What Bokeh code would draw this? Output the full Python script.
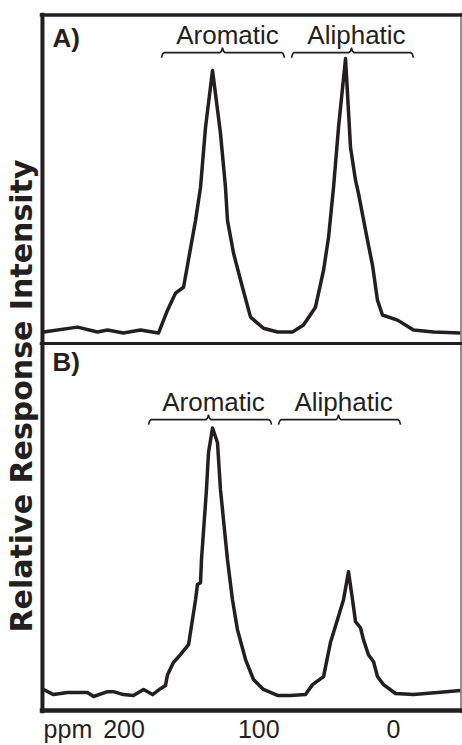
import numpy as np
from bokeh.plotting import figure
from bokeh.models import Range1d, Span, Label, FixedTicker, Title
from bokeh.embed import file_html
from bokeh.resources import INLINE
from bokeh.core.properties import value

# ---------------- data ----------------
# Panel A spectrum: chemical shift (ppm) and relative intensity
ppm_a = [259.7, 234.5, 219.7, 212.2, 200.4, 187.8, 174.4, 167.7, 161.8, 155.8,
         146.9, 143.2, 139.5, 134.3, 128.4, 124.7, 123.2, 118.7, 112.1, 106.1,
         96.5, 86.1, 75.0, 66.8, 57.9, 51.9, 48.2, 44.5, 40.8, 35.6,
         31.9, 28.2, 26.0, 19.3, 15.6, 11.9, 8.2, -3.0, -14.8, -29.7, -49.7]
int_a = [0.043, 0.061, 0.043, 0.050, 0.039, 0.050, 0.039, 0.124, 0.187, 0.209,
         0.457, 0.580, 0.802, 1.013, 0.780, 0.580, 0.457, 0.335, 0.209, 0.098,
         0.057, 0.043, 0.043, 0.069, 0.135, 0.272, 0.394, 0.580, 0.802, 1.057,
         0.727, 0.606, 0.557, 0.383, 0.291, 0.161, 0.106, 0.087, 0.050, 0.043, 0.039]

# Panel B spectrum
ppm_b = [259.7, 252.3, 241.9, 227.1, 222.6, 212.2, 207.8, 200.4, 193.0, 185.5,
         178.8, 172.9, 169.2, 167.7, 163.3, 158.1, 152.1, 149.2, 146.9, 145.5,
         143.2, 142.5, 138.8, 137.3, 134.3, 130.6, 128.4, 123.2, 119.5, 115.8,
         109.8, 103.9, 96.5, 86.1, 76.4, 65.3, 60.1, 51.9, 46.8, 41.6,
         37.1, 33.4, 30.4, 28.2, 24.5, 22.3, 18.6, 14.8, 11.9, 7.4,
         -1.5, -14.8, -32.7, -49.7]
int_b = [0.078, 0.059, 0.067, 0.067, 0.052, 0.070, 0.070, 0.059, 0.056, 0.078,
         0.059, 0.081, 0.093, 0.133, 0.178, 0.207, 0.244, 0.337, 0.411, 0.467,
         0.474, 0.559, 0.819, 0.956, 1.048, 0.993, 0.819, 0.559, 0.411, 0.300,
         0.189, 0.115, 0.078, 0.056, 0.056, 0.059, 0.096, 0.126, 0.252, 0.337,
         0.411, 0.515, 0.411, 0.330, 0.307, 0.263, 0.207, 0.181, 0.126, 0.096,
         0.063, 0.059, 0.067, 0.074]

panel_names = ["A)", "B)"]
region_names = ["Aromatic", "Aliphatic"]
# region brackets (ppm): start, centre, end
regions_a_start = [172.2, 75.7]
regions_a_mid = [126.9, 31.2]
regions_a_end = [80.9, -14.8]
regions_b_start = [181.8, 85.3]
regions_b_mid = [137.3, 40.8]
regions_b_end = [90.5, -5.2]

tick_values = [200, 100, 0]
tick_labels = ["200", "100", "0"]
x_unit_label = "ppm"
y_title = "Relative Response Intensity"

# ---------------- layout ----------------
INK = "#231f20"
PX_PER_PPM = 1.3475
PX_PER_UNIT = 270.0
OFFSET_A = 1.361          # vertical shift of panel A (panel divider)
OFFSET_B = 0.0
TOP = 2.580
BRACE_LEVEL = 1.079
TEXT_LEVEL = 1.146
UNIT_LABEL_AT = 241.6     # where the unit word sits in the tick-label row

p = figure(width=462, height=745, output_backend="svg", toolbar_location=None,
           x_range=Range1d(262.7, -51.2), y_range=Range1d(-0.0111, 2.589),
           min_border_left=39, min_border_right=0, min_border_top=12,
           min_border_bottom=31)
p.outline_line_color = None
p.grid.visible = False
p.yaxis.visible = False
p.background_fill_color = "white"
p.border_fill_color = "white"

ax = p.xaxis[0]
ax.ticker = FixedTicker(ticks=tick_values + [UNIT_LABEL_AT])
overrides = {v: s for v, s in zip(tick_values, tick_labels)}
overrides[UNIT_LABEL_AT] = x_unit_label
ax.major_label_overrides = overrides
ax.axis_line_color = None
ax.major_tick_line_color = None
ax.minor_tick_line_color = None
ax.major_tick_out = 0
ax.major_tick_in = 0
ax.major_label_standoff = 1
ax.major_label_text_font = "Liberation Sans"
ax.major_label_text_font_size = "25px"
ax.major_label_text_color = INK

# spectra
p.line(ppm_a, np.array(int_a) + OFFSET_A, line_color=INK, line_width=3.5,
       line_join="round")
p.line(ppm_b, np.array(int_b) + OFFSET_B, line_color=INK, line_width=3.5,
       line_join="round")

# brackets
d = 5.0 / PX_PER_UNIT
e = 2.5 / PX_PER_PPM
def bracket(s, m, t, lvl):
    xs = [s, s - e * 0.4, s - e, m + e, m + e * 0.4, m, m - e * 0.4, m - e,
          t + e, t + e * 0.4, t]
    ys = [lvl - d, lvl - d * 0.3, lvl, lvl, lvl + d * 0.3, lvl + d,
          lvl + d * 0.3, lvl, lvl, lvl - d * 0.3, lvl - d]
    return xs, ys

for starts, mids, ends, off in [(regions_a_start, regions_a_mid, regions_a_end, OFFSET_A),
                                (regions_b_start, regions_b_mid, regions_b_end, OFFSET_B)]:
    for s, m, t in zip(starts, mids, ends):
        xs, ys = bracket(s, m, t, BRACE_LEVEL + off)
        p.line(xs, ys, line_color=INK, line_width=1.6)
    p.text(x=mids, y=[TEXT_LEVEL + off] * len(mids), text=region_names,
           text_align="center", text_baseline="middle", x_offset=5,
           text_font=value("Liberation Sans"), text_font_size="26px",
           text_color=INK)

# frame lines
p.add_layout(Span(location=260.5, dimension="height", line_color=INK, line_width=4))
p.add_layout(Span(location=-50.1, dimension="height", line_color="#6d6d6d", line_width=1.5))
p.add_layout(Span(location=TOP, dimension="width", line_color=INK, line_width=3.5))
p.add_layout(Span(location=OFFSET_A, dimension="width", line_color=INK, line_width=3))
p.add_layout(Span(location=0.0, dimension="width", line_color=INK, line_width=4.5))

# panel letters
for name, yy in zip(panel_names, [2.494, 1.291]):
    p.add_layout(Label(x=253.1, y=yy, text=name, text_align="left",
                       text_baseline="middle", text_font="Liberation Sans",
                       text_font_style="bold", text_font_size="26px",
                       text_color=INK))

# vertical title
p.add_layout(Title(text=y_title, align="left", offset=81, standoff=0,
                   vertical_align="middle", text_font="DejaVu Sans",
                   text_font_style="bold", text_font_size="30px",
                   text_color=INK), "left")

open("out.html", "w").write(file_html(p, INLINE))
